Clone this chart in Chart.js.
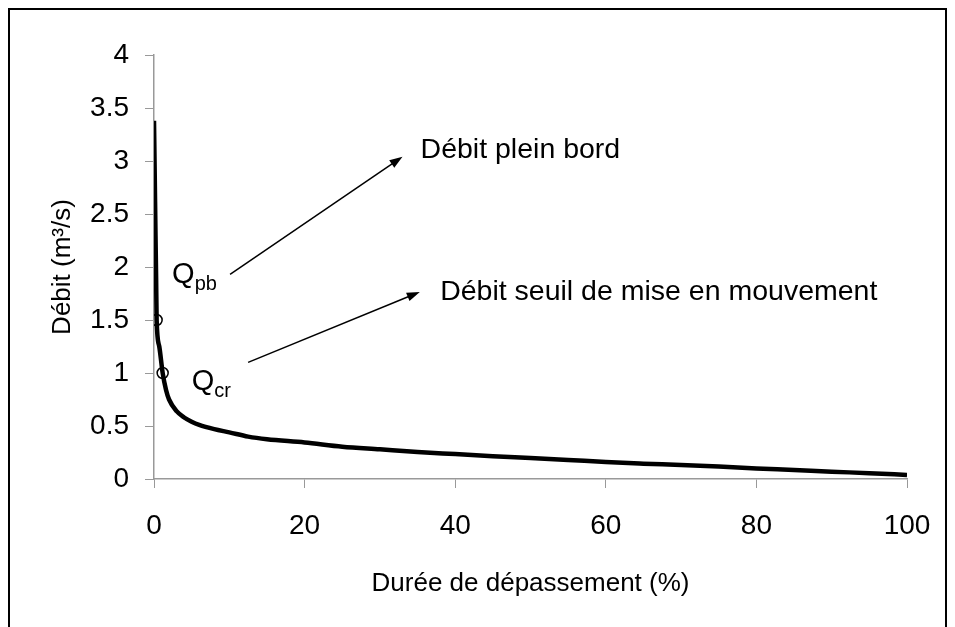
<!DOCTYPE html>
<html>
<head>
<meta charset="utf-8">
<script src="https://cdn.jsdelivr.net/npm/chart.js@4.4.1/dist/chart.umd.min.js"></script>
<style>
    body { margin: 0; background: #fff; }
</style>
</head>
<body>
<canvas id="chart" width="955" height="627"></canvas>
<script>
// courbe des débits classés
let duree = [0, 0.1, 0.2, 0.28, 0.35, 0.7, 1.15, 1.6, 2, 3, 4, 5, 6, 8, 10, 12.5, 15, 20, 25, 30,
             35, 40, 45, 50, 55, 60, 65, 70, 75, 80, 85, 90, 95, 100];
let debit = [3.38, 2.85, 2.3, 1.9, 1.5, 1.25, 1.0, 0.84, 0.75, 0.64, 0.58, 0.54, 0.51, 0.47, 0.44, 0.40, 0.375, 0.345, 0.305, 0.28,
             0.255, 0.235, 0.215, 0.198, 0.18, 0.16, 0.145, 0.132, 0.117, 0.10, 0.085, 0.069, 0.055, 0.038];

// points Qpb et Qcr
let pointsX = [0.35, 1.15];
let pointsY = [1.5, 1.0];

let xTicks = [0, 20, 40, 60, 80, 100];
let yTicks = [0, 0.5, 1, 1.5, 2, 2.5, 3, 3.5, 4];

const FONT = '"Liberation Sans", Arial, sans-serif';

// annotations (en coordonnées du graphique)
const arrows = [
    [10.1, 1.93, 33.0, 3.04],
    [12.5, 1.10, 35.3, 1.765]
];
const notes = [
    { text: "Débit plein bord", x: 35.4, y: 3.03 },
    { text: "Débit seuil de mise en mouvement", x: 38.0, y: 1.69 }
];
const qLabels = [
    { sub: "pb", x: 2.4, y: 1.85 },
    { sub: "cr", x: 5.0, y: 0.84 }
];

const decor = {
    id: 'decor',
    beforeDraw(chart) {
        const ctx = chart.ctx;
        ctx.save();
        ctx.fillStyle = '#fff';
        ctx.fillRect(0, 0, chart.width, chart.height);
        ctx.strokeStyle = '#000';
        ctx.lineWidth = 2;
        ctx.strokeRect(9, 9, 937, 660);
        ctx.restore();
    },
    afterDraw(chart) {
        const { ctx, scales: { x, y } } = chart;
        const px = v => x.getPixelForValue(v);
        const py = v => y.getPixelForValue(v);
        ctx.save();
        ctx.strokeStyle = '#000';
        ctx.fillStyle = '#000';
        ctx.lineWidth = 1.5;

        arrows.forEach(a => {
            let x0 = px(a[0]), y0 = py(a[1]), x1 = px(a[2]), y1 = py(a[3]);
            let ang = Math.atan2(y1 - y0, x1 - x0);
            ctx.beginPath();
            ctx.moveTo(x0, y0);
            ctx.lineTo(x1 - 6 * Math.cos(ang), y1 - 6 * Math.sin(ang));
            ctx.stroke();
            ctx.beginPath();
            ctx.moveTo(x1, y1);
            ctx.lineTo(x1 - 13 * Math.cos(ang) + 4.5 * Math.sin(ang), y1 - 13 * Math.sin(ang) - 4.5 * Math.cos(ang));
            ctx.lineTo(x1 - 13 * Math.cos(ang) - 4.5 * Math.sin(ang), y1 - 13 * Math.sin(ang) + 4.5 * Math.cos(ang));
            ctx.closePath();
            ctx.fill();
        });

        ctx.textBaseline = 'alphabetic';
        ctx.textAlign = 'left';
        ctx.font = '28.5px ' + FONT;
        notes.forEach(n => ctx.fillText(n.text, px(n.x), py(n.y)));

        qLabels.forEach(q => {
            let X = px(q.x), Y = py(q.y);
            ctx.font = '29px ' + FONT;
            ctx.fillText('Q', X, Y);
            let w = ctx.measureText('Q').width;
            ctx.font = '20px ' + FONT;
            ctx.fillText(q.sub, X + w, Y + 7);
        });
        ctx.restore();
    }
};

new Chart(document.getElementById("chart"), {
    type: 'line',
    data: {
        datasets: [{
            data: duree.map((d, i) => ({ x: d, y: debit[i] })),
            borderColor: '#000',
            borderWidth: 4.5,
            pointRadius: 0,
            cubicInterpolationMode: 'monotone',
            fill: false
        }, {
            type: 'scatter',
            data: pointsX.map((d, i) => ({ x: d, y: pointsY[i] })),
            pointRadius: 5.5,
            pointBorderWidth: 1.5,
            pointBorderColor: '#000',
            pointBackgroundColor: 'rgba(0,0,0,0)',
            showLine: false
        }]
    },
    options: {
        responsive: false,
        animation: false,
        layout: { padding: { top: 55, right: 48, left: 0, bottom: 0 } },
        plugins: { legend: { display: false }, tooltip: { enabled: false } },
        scales: {
            x: {
                type: 'linear',
                min: 0, max: 100,
                afterFit: s => { s.height = 148; },
                afterBuildTicks: s => { s.ticks = xTicks.map(v => ({ value: v })); },
                grid: { drawOnChartArea: false, color: '#999', tickLength: 9 },
                border: { color: '#999', width: 1.5 },
                ticks: { color: '#000', font: { size: 28, family: FONT }, padding: 21, maxRotation: 0 },
                title: {
                    display: true, text: 'Durée de dépassement (%)', color: '#000',
                    font: { size: 26, family: FONT }, padding: { bottom: 28 }
                }
            },
            y: {
                type: 'linear',
                min: 0, max: 4,
                afterFit: s => { s.width = 154; },
                afterBuildTicks: s => { s.ticks = yTicks.map(v => ({ value: v })); },
                grid: { drawOnChartArea: false, color: '#999', tickLength: 9 },
                border: { color: '#999', width: 1.5 },
                ticks: { color: '#000', font: { size: 28, family: FONT }, padding: 16, callback: v => String(v) },
                title: {
                    display: true, text: 'Débit (m³/s)', color: '#000',
                    font: { size: 26, family: FONT }, padding: { top: 47 }
                }
            }
        }
    },
    plugins: [decor]
});
</script>
</body>
</html>
